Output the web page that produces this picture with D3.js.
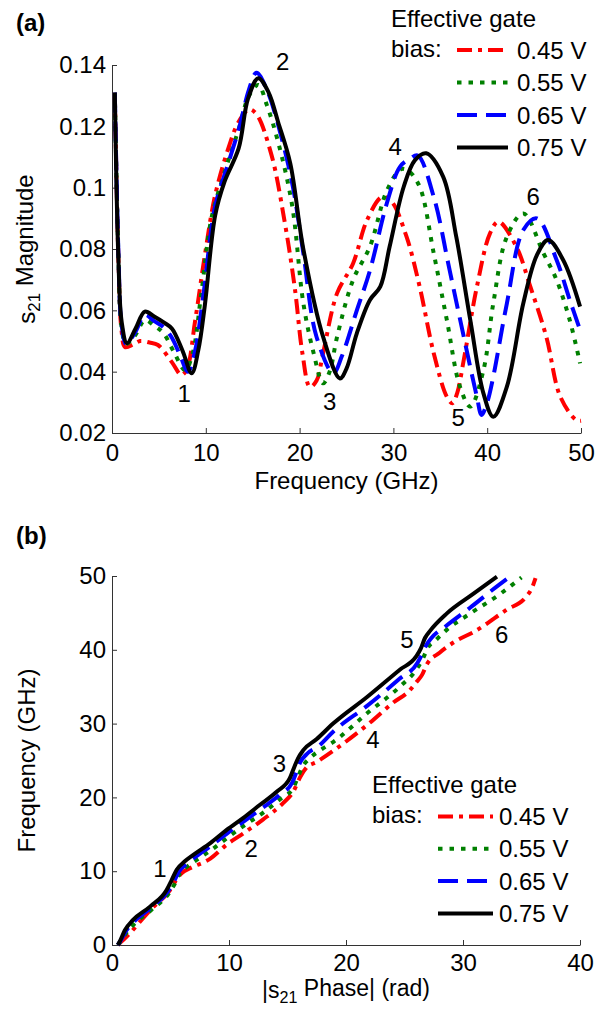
<!DOCTYPE html>
<html>
<head>
<meta charset="utf-8">
<script src="https://cdn.jsdelivr.net/npm/d3@7"></script>
<style>
  body { margin: 0; background: #fff; }
  svg { font-family: "Liberation Sans", Arial, Helvetica, sans-serif; }
</style>
</head>
<body>
<div id="chart"></div>
<script>
// legend / series
const biasLabels = ["0.45 V", "0.55 V", "0.65 V", "0.75 V"];

// (a) s21 magnitude vs frequency (GHz)
const magFreq045 = [0.3, 0.7, 1.0, 1.4, 2.3, 3.0, 4.0, 4.9, 6.36, 7.4, 8.0, 8.85, 9.9, 11.0, 12.4, 13.5, 14.6, 15.4, 17.0, 18.4, 19.5, 20.3, 21.1, 21.8, 22.5, 24.0, 25.7, 27.2, 28.8, 29.8, 31.4, 32.8, 34.3, 35.7, 36.3, 36.8, 37.5, 38.9, 40.3, 41.2, 43.1, 44.6, 46.3, 47.8, 49.5, 50.0];
const magVal045  = [0.131, 0.075, 0.054, 0.048, 0.049, 0.050, 0.0495, 0.0487, 0.0432, 0.0389, 0.041, 0.0563, 0.078, 0.0976, 0.1128, 0.1215, 0.1255, 0.124, 0.1107, 0.089, 0.067, 0.046, 0.035, 0.037, 0.046, 0.0656, 0.0753, 0.0895, 0.097, 0.0955, 0.084, 0.0677, 0.046, 0.0318, 0.0297, 0.033, 0.0438, 0.0677, 0.0851, 0.0889, 0.0808, 0.0677, 0.0514, 0.0318, 0.0242, 0.024];

const magFreq055 = [0.3, 0.7, 1.0, 1.5, 2.5, 3.5, 4.5, 5.5, 6.5, 7.8, 8.6, 9.5, 10.6, 12.0, 13.5, 14.6, 15.6, 16.5, 17.7, 19.2, 20.4, 21.5, 22.5, 23.2, 24.0, 25.7, 27.5, 29.3, 30.8, 31.6, 32.8, 34.3, 35.7, 37.1, 38.2, 39.6, 40.65, 42.1, 43.85, 46.0, 47.4, 48.8, 49.9];
const magVal055  = [0.131, 0.076, 0.055, 0.049, 0.052, 0.0568, 0.055, 0.0525, 0.047, 0.0405, 0.046, 0.065, 0.090, 0.105, 0.119, 0.130, 0.1335, 0.127, 0.115, 0.0943, 0.0623, 0.046, 0.0362, 0.040, 0.0514, 0.0699, 0.0808, 0.099, 0.106, 0.1055, 0.1003, 0.0786, 0.0568, 0.0351, 0.0286, 0.0405, 0.0623, 0.084, 0.0916, 0.0786, 0.0699, 0.0568, 0.0427];

const magFreq065 = [0.3, 0.7, 1.0, 1.5, 2.5, 3.5, 4.5, 5.5, 6.4, 7.3, 8.1, 8.8, 9.7, 11.0, 12.3, 13.6, 14.6, 15.4, 16.5, 18.1, 19.3, 20.4, 21.8, 23.6, 24.5, 26.1, 27.5, 29.3, 30.7, 31.8, 32.6, 34.3, 36.0, 37.5, 38.9, 39.4, 40.0, 40.65, 42.1, 43.85, 45.3, 47.4, 48.8, 49.9];
const magVal065  = [0.131, 0.077, 0.056, 0.049, 0.053, 0.0585, 0.0565, 0.0545, 0.051, 0.045, 0.040, 0.046, 0.064, 0.094, 0.107, 0.120, 0.132, 0.1375, 0.132, 0.116, 0.100, 0.0786, 0.0514, 0.0395, 0.045, 0.060, 0.073, 0.0949, 0.1068, 0.1095, 0.1105, 0.097, 0.073, 0.0514, 0.0318, 0.0259, 0.030, 0.0384, 0.0623, 0.0862, 0.090, 0.0764, 0.0634, 0.0536];

const magFreq075 = [0.3, 0.67, 1.03, 1.6, 2.5, 3.5, 4.5, 5.6, 6.4, 7.5, 8.5, 9.2, 9.9, 11.0, 12.0, 13.5, 14.5, 15.6, 16.7, 17.7, 19.0, 20.4, 22.5, 24.3, 25.0, 26.1, 27.5, 28.6, 29.6, 31.1, 32.3, 33.5, 35.3, 36.7, 38.2, 39.6, 40.65, 42.1, 43.85, 45.3, 46.5, 48.1, 49.9];
const magVal075  = [0.131, 0.078, 0.0563, 0.0493, 0.054, 0.0596, 0.058, 0.0559, 0.054, 0.047, 0.0395, 0.047, 0.0617, 0.091, 0.102, 0.1128, 0.129, 0.1357, 0.131, 0.1215, 0.108, 0.080, 0.0514, 0.0378, 0.041, 0.0525, 0.0634, 0.0677, 0.0808, 0.1003, 0.109, 0.1112, 0.1036, 0.084, 0.0568, 0.0329, 0.0253, 0.0351, 0.0623, 0.078, 0.0829, 0.0764, 0.0612];

const magNotes = [
  {t: "1", x: 7.7, y: 0.0301}, {t: "2", x: 18.2, y: 0.1384}, {t: "3", x: 23.2, y: 0.0275},
  {t: "4", x: 30.2, y: 0.1107}, {t: "5", x: 36.9, y: 0.0223}, {t: "6", x: 44.9, y: 0.0943}
];
const magXTicks = [0, 10, 20, 30, 40, 50];
const magYTicks = [0.02, 0.04, 0.06, 0.08, 0.1, 0.12, 0.14];

// (b) frequency (GHz) vs |s21 phase| (rad)
const phase045 = [0.5, 0.9, 1.54, 2.3, 3.25, 4.96, 5.67, 6.0, 6.67, 8.4, 9.8, 11.2, 12.9, 14.6, 15.5, 16.1, 16.6, 17.5, 18.9, 21.8, 24.0, 25.5, 26.0, 26.5, 26.9, 28.0, 29.5, 30.9, 33.7, 35.4, 35.9, 36.2];
const phFreq045 = [0.0, 0.6, 1.6, 3.0, 4.7, 7.45, 9.25, 9.8, 10.4, 11.7, 13.6, 15.1, 17.0, 19.2, 20.8, 22.8, 24.0, 24.8, 26.3, 29.8, 32.8, 34.6, 35.6, 36.6, 38.0, 39.6, 41.3, 42.4, 45.4, 47.2, 48.4, 49.7];

const phase055 = [0.5, 0.8, 1.3, 2.0, 3.4, 4.9, 5.4, 5.8, 6.5, 7.3, 8.6, 10.0, 11.4, 12.9, 14.4, 15.5, 15.9, 16.3, 16.9, 17.9, 18.9, 21.8, 24.6, 26.0, 26.6, 27.0, 27.6, 28.6, 30.6, 33.2, 35.0];
const phFreq055 = [0.0, 0.6, 1.8, 3.0, 4.8, 7.1, 8.4, 9.7, 10.7, 11.6, 13.0, 14.7, 16.3, 17.9, 19.8, 21.3, 22.8, 24.2, 25.3, 26.5, 27.5, 31.4, 35.0, 37.3, 38.9, 40.3, 41.2, 42.7, 44.9, 47.6, 49.8];

const phase065 = [0.5, 0.75, 1.2, 1.9, 3.3, 4.8, 5.3, 5.7, 6.4, 7.1, 8.5, 9.9, 11.3, 12.8, 14.3, 15.4, 15.8, 16.1, 16.6, 17.7, 18.9, 21.8, 24.6, 26.1, 26.5, 26.85, 27.3, 28.6, 30.6, 32.5, 34.0];
const phFreq065 = [0.0, 0.6, 1.9, 3.2, 5.0, 7.3, 8.6, 9.9, 11.0, 11.9, 13.5, 15.2, 16.8, 18.5, 20.3, 22.0, 23.6, 24.8, 25.8, 27.0, 28.9, 32.4, 36.1, 38.2, 39.4, 40.6, 41.6, 43.3, 45.7, 48.1, 49.9];

const phase075 = [0.5, 0.7, 1.1, 1.8, 3.25, 4.67, 5.1, 5.53, 6.2, 6.95, 8.4, 9.8, 11.2, 12.65, 14.1, 15.2, 15.6, 15.9, 16.35, 17.5, 18.9, 21.8, 24.6, 26.0, 26.4, 26.75, 27.2, 28.6, 30.9, 32.9];
const phFreq075 = [0.0, 0.6, 2.0, 3.4, 5.2, 7.45, 8.8, 10.2, 11.3, 12.2, 13.8, 15.6, 17.2, 19.0, 20.8, 22.6, 24.2, 25.3, 26.4, 27.9, 30.0, 33.6, 37.3, 39.1, 40.2, 41.6, 42.6, 44.9, 47.6, 49.9];

const phNotes = [
  {t: "1", x: 4.1, y: 9.2}, {t: "2", x: 11.9, y: 11.9}, {t: "3", x: 14.3, y: 23.4},
  {t: "4", x: 22.3, y: 26.7}, {t: "5", x: 25.2, y: 40.2}, {t: "6", x: 33.3, y: 40.9}
];
const phXTicks = [0, 10, 20, 30, 40];
const phYTicks = [0, 10, 20, 30, 40, 50];

const styles = [
  {color: "#ff0000", dash: "15,6,4,6"},
  {color: "#008000", dash: "4.5,7"},
  {color: "#0000ff", dash: "20,9"},
  {color: "#000000", dash: null}
];

function zipPts(xs, ys) {
  return xs.map((v, i) => [v, ys[i]]);
}

const W = 609, H = 1012, FS = 24;
const svg = d3.select("#chart").append("svg")
  .attr("width", W).attr("height", H);

function drawPanel(p) {
  const x = d3.scaleLinear().domain(p.xDomain).range(p.xRange);
  const y = d3.scaleLinear().domain(p.yDomain).range(p.yRange);
  const g = svg.append("g");

  // axes (box off, ticks inside)
  const xAxis = g.append("g")
    .attr("transform", "translate(0," + p.yRange[0] + ")")
    .call(d3.axisBottom(x).tickValues(p.xTicks).tickFormat(d3.format("d"))
      .tickSizeInner(-5).tickSizeOuter(0).tickPadding(p.xPad));
  const yAxis = g.append("g")
    .attr("transform", "translate(" + p.xRange[0] + ",0)")
    .call(d3.axisLeft(y).tickValues(p.yTicks).tickFormat(p.yFormat)
      .tickSizeInner(-5).tickSizeOuter(0).tickPadding(6));
  [xAxis, yAxis].forEach(a => {
    a.attr("color", "#333").attr("font-size", FS).attr("font-family", null);
    a.selectAll("text").attr("fill", "#000");
  });

  // curves
  const line = d3.line()
    .x(d => x(d[0])).y(d => y(d[1]))
    .curve(p.curve);
  p.series.forEach((s, i) => {
    g.append("path")
      .datum(s)
      .attr("fill", "none")
      .attr("stroke", styles[i].color)
      .attr("stroke-width", 4)
      .attr("stroke-linejoin", "round")
      .attr("stroke-dasharray", styles[i].dash)
      .attr("d", line);
  });

  // numbered points
  g.selectAll("text.note")
    .data(p.notes)
    .enter().append("text")
    .attr("class", "note")
    .attr("x", d => x(d.x)).attr("y", d => y(d.y))
    .attr("text-anchor", "middle")
    .attr("font-size", FS)
    .text(d => d.t);

  // panel tag
  g.append("text")
    .attr("x", 16).attr("y", p.tagY)
    .attr("font-size", FS).attr("font-weight", "bold")
    .text(p.tag);

  // x label
  const xl = g.append("text")
    .attr("x", (p.xRange[0] + p.xRange[1]) / 2).attr("y", p.xLabelY)
    .attr("text-anchor", "middle").attr("font-size", p.xLabelFS || FS);
  p.xLabel(xl);

  // y label
  const yl = g.append("text")
    .attr("transform", "translate(35," + (p.yRange[0] + p.yRange[1]) / 2 + ")rotate(-90)")
    .attr("text-anchor", "middle").attr("font-size", FS);
  p.yLabel(yl);

  // legend
  const lg = g.append("g");
  lg.append("text").attr("x", p.leg.x).attr("y", p.leg.y)
    .attr("font-size", FS).text("Effective gate");
  lg.append("text").attr("x", p.leg.x).attr("y", p.leg.y + p.leg.biasDy)
    .attr("font-size", FS).text("bias:");
  biasLabels.forEach((lab, i) => {
    const by = p.leg.row0 + i * p.leg.step;
    lg.append("line")
      .attr("x1", p.leg.lx0).attr("x2", p.leg.lx1)
      .attr("y1", by - 8.5).attr("y2", by - 8.5)
      .attr("stroke", styles[i].color).attr("stroke-width", 4)
      .attr("stroke-dasharray", styles[i].dash);
    lg.append("text").attr("x", p.leg.tx).attr("y", by)
      .attr("font-size", FS).text(lab);
  });
}

function subLabel(pre, sub, post) {
  return function(t) {
    t.append("tspan").text(pre);
    t.append("tspan").attr("dy", "0.3em").attr("font-size", "70%").text(sub);
    t.append("tspan").attr("dy", "-0.3em").text(post);
  };
}

drawPanel({
  xDomain: [0, 50], xRange: [112, 581],
  yDomain: [0.02, 0.14], yRange: [433, 65],
  xTicks: magXTicks, yTicks: magYTicks,
  yFormat: d => (+d.toFixed(2)).toString(),
  xPad: 11,
  curve: d3.curveCatmullRom.alpha(0.5),
  series: [zipPts(magFreq045, magVal045), zipPts(magFreq055, magVal055),
           zipPts(magFreq065, magVal065), zipPts(magFreq075, magVal075)],
  notes: magNotes,
  tag: "(a)", tagY: 31,
  xLabelY: 489,
  xLabel: t => t.text("Frequency (GHz)"),
  yLabel: subLabel("s", "21", " Magnitude"),
  leg: {x: 391, y: 27, biasDy: 30, row0: 58.5, step: 32.5, lx0: 457, lx1: 508, tx: 517}
});

drawPanel({
  xDomain: [0, 40], xRange: [112, 580],
  yDomain: [0, 50], yRange: [945, 576],
  xTicks: phXTicks, yTicks: phYTicks,
  yFormat: d3.format("d"),
  xPad: 9,
  curve: d3.curveMonotoneX,
  series: [zipPts(phase045, phFreq045), zipPts(phase055, phFreq055),
           zipPts(phase065, phFreq065), zipPts(phase075, phFreq075)],
  notes: phNotes,
  tag: "(b)", tagY: 544,
  xLabelY: 998, xLabelFS: 23,
  xLabel: subLabel("|s", "21", " Phase| (rad)"),
  yLabel: t => t.text("Frequency (GHz)"),
  leg: {x: 372, y: 793, biasDy: 30, row0: 825, step: 32.3, lx0: 438, lx1: 493, tx: 499}
});
</script>
</body>
</html>
